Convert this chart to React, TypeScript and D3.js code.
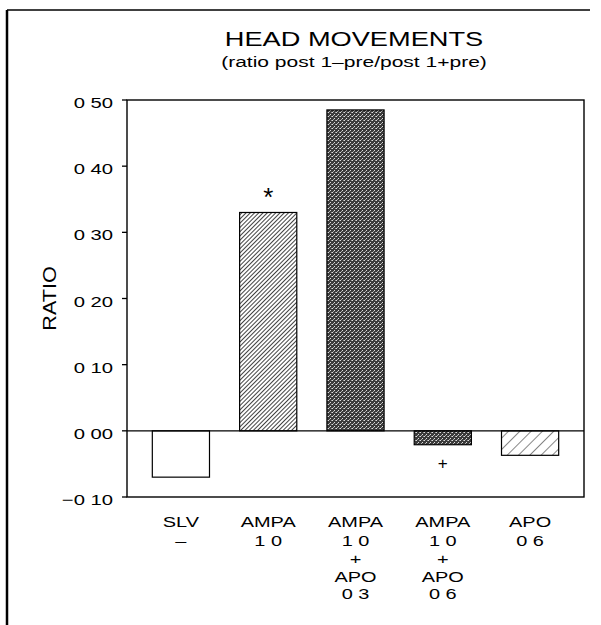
import React from "react";
import * as d3 from "d3";

const categories = ["SLV", "AMPA 10", "AMPA 10 + APO 03", "AMPA 10 + APO 06", "APO 06"];
const categoryLines = [["SLV", "–"], ["AMPA", "1 0"], ["AMPA", "1 0", "+", "APO", "0 3"], ["AMPA", "1 0", "+", "APO", "0 6"], ["APO", "0 6"]];
const values = [-0.07, 0.33, 0.485, -0.021, -0.037];
const fills = ["white", "url(#hatchDense)", "url(#stipple)", "url(#stipple)", "url(#hatchSparse)"];
const markers = ["", "*", "", "+", ""];
const markerSide = [0, 1, 0, -1, 0];
const tickValues = [-0.1, 0, 0.1, 0.2, 0.3, 0.4, 0.5];
const tickLabels = ["−0 10", "0 00", "0 10", "0 20", "0 30", "0 40", "0 50"];

const W = 601, H = 625;
const plot = { left: 127, right: 584, top: 100, bottom: 497 };
const lineY = [527, 546, 564, 582, 599];
const font = "'Liberation Sans', Arial, sans-serif";

function SText({ x, y, sx = 1.33, size, anchor = "middle", children, rotate = 0, spacing = 0 }:
  { x: number; y: number; sx?: number; size: number; anchor?: string; children: React.ReactNode; rotate?: number; spacing?: number }) {
  return (
    <g transform={`translate(${x},${y}) rotate(${rotate}) scale(${sx},1)`}>
      <text x={0} y={0} textAnchor={anchor} fontFamily={font} fontSize={size} letterSpacing={spacing} fill="#000">{children}</text>
    </g>
  );
}

export default function App() {
  const y = d3.scaleLinear().domain([-0.1, 0.5]).range([plot.bottom, plot.top]);
  const x = d3.scaleBand<string>().domain(categories).range([plot.left, plot.right]).paddingInner(0.345).paddingOuter(0.29);
  return (
    <svg width={W} height={H} style={{ position: "absolute", left: 0, top: 0, background: "white" }}>
      <defs>
        <pattern id="hatchDense" patternUnits="userSpaceOnUse" width={3} height={3} patternTransform="rotate(45)">
          <rect width={3} height={3} fill="white" />
          <line x1={0} y1={0} x2={0} y2={3} stroke="#111" strokeWidth={1.6} />
        </pattern>
        <pattern id="hatchSparse" patternUnits="userSpaceOnUse" width={8} height={8} patternTransform="rotate(45)">
          <rect width={8} height={8} fill="white" />
          <line x1={0} y1={0} x2={0} y2={8} stroke="#222" strokeWidth={1.1} />
        </pattern>
        <pattern id="stipple" patternUnits="userSpaceOnUse" width={4} height={4}>
          <rect width={4} height={4} fill="#3a3a3a" />
          <rect x={0} y={0} width={1} height={1} fill="#ddd" />
          <rect x={2} y={2} width={1} height={1} fill="#ddd" />
          <rect x={3} y={0} width={1} height={1} fill="#999" />
          <rect x={1} y={3} width={1} height={1} fill="#aaa" />
        </pattern>
      </defs>
      {/* outer frame */}
      <line x1={7} y1={10} x2={590} y2={10} stroke="#000" strokeWidth={1.5} />
      <line x1={7} y1={10} x2={7} y2={625} stroke="#000" strokeWidth={2.5} />
      {/* titles */}
      <SText x={354} y={46} size={20} sx={1.36}>HEAD  MOVEMENTS</SText>
      <SText x={354} y={67} size={14.5} sx={1.45}>(ratio  post 1–pre/post 1+pre)</SText>
      {/* bars */}
      {categories.map((c, i) => {
        const v = values[i];
        const y0 = y(0), y1 = y(v);
        return (
          <rect key={c} x={x(c)} y={Math.min(y0, y1)} width={x.bandwidth()} height={Math.abs(y1 - y0)}
            fill={fills[i]} stroke="#000" strokeWidth={1.2} />
        );
      })}
      {/* zero line */}
      <line x1={plot.left} x2={plot.right} y1={y(0)} y2={y(0)} stroke="#000" strokeWidth={1.3} />
      {/* plot frame */}
      <rect x={plot.left} y={plot.top} width={plot.right - plot.left} height={plot.bottom - plot.top} fill="none" stroke="#000" strokeWidth={1.4} />
      {/* y ticks */}
      {tickValues.map((t, i) => (
        <g key={t}>
          <line x1={plot.left - 5} x2={plot.left} y1={y(t)} y2={y(t)} stroke="#000" strokeWidth={1.3} />
          <SText x={113} y={y(t) + 8} size={15} anchor="end" sx={1.35}>{tickLabels[i]}</SText>
        </g>
      ))}
      <SText x={56} y={(plot.top + plot.bottom) / 2} size={18} rotate={-90} sx={1.2}>RATIO</SText>
      {/* markers */}
      {categories.map((c, i) => markers[i] ? (
        <text key={"m" + c} x={(x(c) as number) + x.bandwidth() / 2} y={markerSide[i] > 0 ? y(values[i]) - 6 : y(values[i]) + 24}
          textAnchor="middle" fontFamily={font} fontSize={markers[i] === "*" ? 26 : 17} fill="#000">{markers[i]}</text>
      ) : null)}
      {/* x labels */}
      {categories.map((c, i) => (
        <g key={"l" + c}>
          {categoryLines[i].map((ln, k) => (
            <SText key={k} x={(x(c) as number) + x.bandwidth() / 2} y={lineY[k]} size={15} sx={1.33}>{ln}</SText>
          ))}
        </g>
      ))}
    </svg>
  );
}
